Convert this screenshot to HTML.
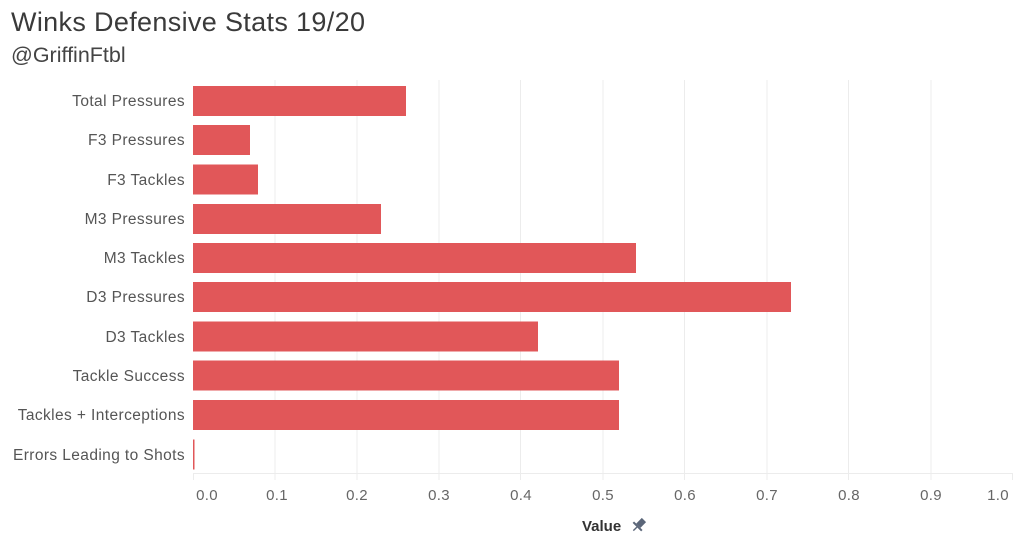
<!DOCTYPE html>
<html><head><meta charset="utf-8"><style>
body{margin:0;background:#fff;width:1023px;height:547px;overflow:hidden;font-family:"Liberation Sans",sans-serif}
</style></head><body>
<svg width="1023" height="547" xmlns="http://www.w3.org/2000/svg" font-family="Liberation Sans, sans-serif">
<text x="11" y="31" font-size="27" fill="#3a3a3a" textLength="354" lengthAdjust="spacing">Winks Defensive Stats 19/20</text>
<text x="11" y="62" font-size="21.5" fill="#444">@GriffinFtbl</text>
<g stroke="#ececec" stroke-width="1">
<line x1="275" y1="80" x2="275" y2="473"/><line x1="357" y1="80" x2="357" y2="473"/><line x1="439" y1="80" x2="439" y2="473"/><line x1="520.5" y1="80" x2="520.5" y2="473"/><line x1="603" y1="80" x2="603" y2="473"/><line x1="684.5" y1="80" x2="684.5" y2="473"/><line x1="767" y1="80" x2="767" y2="473"/><line x1="848.5" y1="80" x2="848.5" y2="473"/><line x1="931" y1="80" x2="931" y2="473"/>
<line x1="193" y1="473.5" x2="1013" y2="473.5"/>
<line x1="193.5" y1="473" x2="193.5" y2="480"/><line x1="275" y1="473" x2="275" y2="480"/><line x1="357" y1="473" x2="357" y2="480"/><line x1="439" y1="473" x2="439" y2="480"/><line x1="520.5" y1="473" x2="520.5" y2="480"/><line x1="603" y1="473" x2="603" y2="480"/><line x1="684.5" y1="473" x2="684.5" y2="480"/><line x1="767" y1="473" x2="767" y2="480"/><line x1="848.5" y1="473" x2="848.5" y2="480"/><line x1="931" y1="473" x2="931" y2="480"/><line x1="1012.5" y1="473" x2="1012.5" y2="480"/>
</g>
<g fill="#e15759">
<rect x="193" y="86" width="213" height="30"/>
<rect x="193" y="125" width="57" height="30"/>
<rect x="193" y="164.5" width="65" height="30"/>
<rect x="193" y="204" width="188" height="30"/>
<rect x="193" y="243" width="443" height="30"/>
<rect x="193" y="282" width="598" height="30"/>
<rect x="193" y="321.5" width="345" height="30"/>
<rect x="193" y="360.5" width="426" height="30"/>
<rect x="193" y="400" width="426" height="30"/>
<rect x="193" y="439.5" width="1.5" height="30"/>
</g>
<g font-size="15.5" fill="#555" text-anchor="end" letter-spacing="0.4">
<text x="185" y="106">Total Pressures</text>
<text x="185" y="145">F3 Pressures</text>
<text x="185" y="185">F3 Tackles</text>
<text x="185" y="224">M3 Pressures</text>
<text x="185" y="263">M3 Tackles</text>
<text x="185" y="302">D3 Pressures</text>
<text x="185" y="342">D3 Tackles</text>
<text x="185" y="381">Tackle Success</text>
<text x="185" y="420">Tackles + Interceptions</text>
<text x="185" y="460">Errors Leading to Shots</text>
</g>
<g font-size="15" fill="#666" text-anchor="middle" letter-spacing="0.3">
<text x="207" y="500">0.0</text><text x="277" y="500">0.1</text><text x="357" y="500">0.2</text><text x="439" y="500">0.3</text><text x="521" y="500">0.4</text><text x="603" y="500">0.5</text><text x="685" y="500">0.6</text><text x="767" y="500">0.7</text><text x="849" y="500">0.8</text><text x="931" y="500">0.9</text><text x="998" y="500">1.0</text>
</g>
<text x="582" y="531" font-size="15" font-weight="bold" fill="#333">Value</text>
<g transform="translate(639,525) rotate(45)" fill="#5b6679"><rect x="-3" y="-7" width="6" height="8"/><rect x="-6" y="1" width="12" height="2"/><rect x="-0.7" y="3" width="1.4" height="5"/></g>
</svg>
</body></html>
